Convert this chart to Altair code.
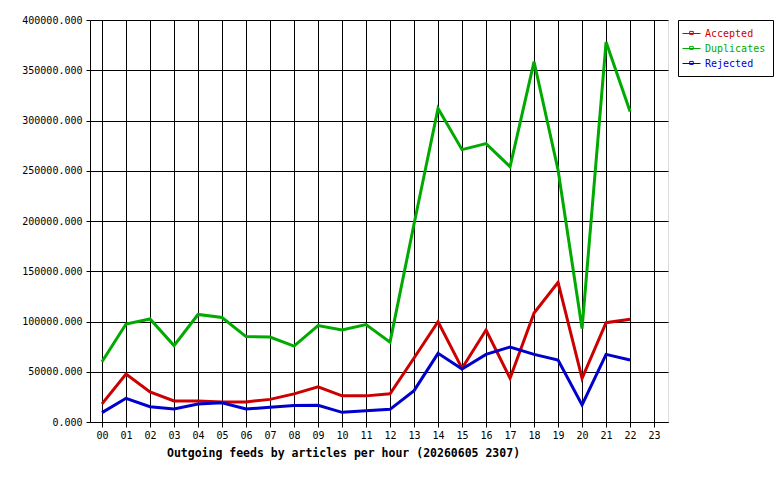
import altair as alt
import pandas as pd

hours = ["00", "01", "02", "03", "04", "05", "06", "07", "08", "09", "10", "11",
         "12", "13", "14", "15", "16", "17", "18", "19", "20", "21", "22"]
tick_labels = ["00", "01", "02", "03", "04", "05", "06", "07", "08", "09", "10", "11",
               "12", "13", "14", "15", "16", "17", "18", "19", "20", "21", "22", "23"]
accepted = [18000, 47800, 30000, 21000, 21000, 20000, 20000, 22500, 28000, 35000, 26000, 26000,
            28000, 63700, 99800, 53400, 91500, 43500, 108500, 139000, 43500, 98800, 102200]
duplicates = [60000, 97500, 102500, 76000, 107000, 104000, 85000, 84500, 75500, 96000, 91500, 97000,
              79500, 197000, 312000, 271000, 277000, 254000, 358500, 250700, 93000, 378000, 309000]
rejected = [9300, 23600, 15200, 13000, 18000, 19200, 13000, 14600, 16400, 16600, 9600, 11300,
            12600, 31200, 68300, 52700, 67300, 74600, 67300, 61700, 16900, 67300, 61700]
series_names = ["Accepted", "Duplicates", "Rejected"]
series_colors = ["#cc0000", "#00aa00", "#0000cc"]

rows = []
for name, vals in zip(series_names, [accepted, duplicates, rejected]):
    for h, v in zip(hours, vals):
        rows.append({"hour": int(h), "series": name, "value": v})
df = pd.DataFrame(rows)

FONT = "DejaVu Sans Mono"
sym = "M-1.5,0L1.5,0M-0.3,-0.35L0.3,-0.35L0.3,0.15L-0.3,0.15Z"

chart = alt.Chart(df).mark_line(strokeWidth=3, strokeJoin="miter").encode(
    x=alt.X("hour:Q",
            scale=alt.Scale(domain=[-0.5, 23.58], nice=False, zero=False),
            axis=alt.Axis(values=list(range(len(tick_labels))),
                          labelExpr="datum.value < 10 ? '0' + datum.value : '' + datum.value",
                          title="Outgoing feeds by articles per hour (20260605 2307)",
                          titleFont=FONT, titleFontSize=11.5, titleFontWeight="bold",
                          titleColor="black", titleX=253, titleAlign="center",
                          titlePadding=7,
                          labelFont=FONT, labelFontSize=10, labelColor="black",
                          labelPadding=3, tickSize=5, tickColor="black",
                          domainColor="black", grid=True, gridColor="black",
                          gridOpacity=1, gridWidth=1, labelFlush=False)),
    y=alt.Y("value:Q",
            scale=alt.Scale(domain=[0, 400000], nice=False),
            axis=alt.Axis(values=list(range(0, 400001, 50000)), format=".3f", title=None,
                          labelFont=FONT, labelFontSize=10, labelColor="black",
                          labelPadding=4, tickSize=4, tickColor="black",
                          domainColor="black", grid=True, gridColor="black",
                          gridOpacity=1, gridWidth=1)),
    color=alt.Color("series:N",
                    scale=alt.Scale(domain=series_names, range=series_colors),
                    legend=alt.Legend(title=None, orient="right", offset=10,
                                      strokeColor="black", fillColor="white",
                                      padding=7, symbolType=sym, symbolSize=144,
                                      symbolStrokeWidth=1, symbolFillColor="transparent",
                                      labelFont=FONT, labelFontSize=10, labelOffset=7,
                                      rowPadding=3,
                                      labelColor=alt.ExprRef("scale('color', datum.value)"))),
).properties(
    width=578, height=402,
    autosize=alt.AutoSizeParams(type="none"),
    padding={"left": 90, "top": 20, "right": 112, "bottom": 58},
).configure_view(
    fill="#e0e0e0", stroke="black", strokeWidth=1
).configure(background="white")

chart.save("out.html", embed_options={"renderer": "svg", "actions": False})
